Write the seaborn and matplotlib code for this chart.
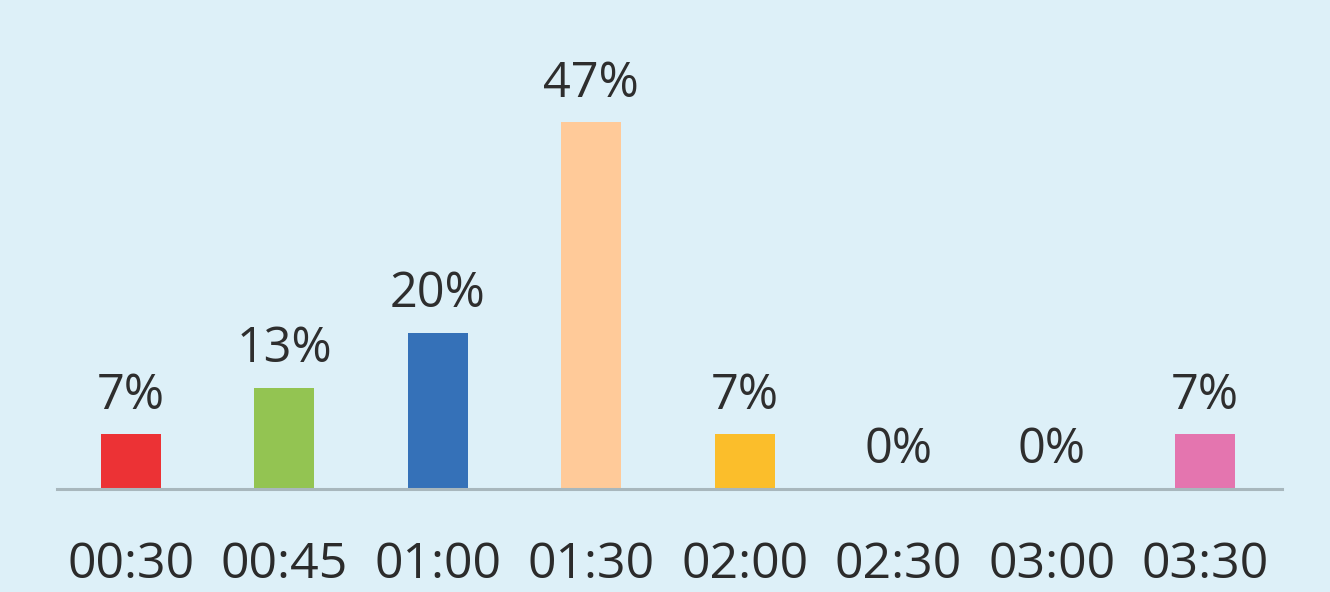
import matplotlib
matplotlib.use("Agg")
import matplotlib.pyplot as plt
import seaborn as sns
import pandas as pd

categories = ["00:30", "00:45", "01:00", "01:30", "02:00", "02:30", "03:00", "03:30"]
values = [7, 13, 20, 47, 7, 0, 0, 7]
labels = ["7%", "13%", "20%", "47%", "7%", "0%", "0%", "7%"]
colors = ["#EC3235", "#93C452", "#3571B8", "#FFCA99", "#FBBE2B", "#E0E0E0", "#E0E0E0", "#E475AF"]

bg = "#DDF0F8"
sns.set_theme(style="white")
plt.rcParams["font.family"] = ["Open Sans", "DejaVu Sans"]

df = pd.DataFrame({"time": categories, "pct": values})

fig = plt.figure(figsize=(13.3, 5.92), dpi=100, facecolor=bg)
ax = fig.add_axes([57/1330, (592-489)/592, (1282-57)/1330, 468/592])
ax.set_facecolor(bg)

sns.barplot(data=df, x="time", y="pct", hue="time", palette=colors, order=categories,
            hue_order=categories, width=0.39, legend=False, ax=ax, saturation=1,
            linewidth=0)

for cont, lab in zip(ax.containers, labels):
    ax.bar_label(cont, labels=[lab], padding=10, fontsize=35, color="#2E2E2E")

ax.set_xlim(-0.48, 7.5)
ax.set_ylim(0, 60)
for s in ["top", "right", "left"]:
    ax.spines[s].set_visible(False)
ax.spines["bottom"].set_color("#A8B7BD")
ax.spines["bottom"].set_linewidth(2.2)
ax.set_yticks([])
ax.set_xlabel("")
ax.set_ylabel("")
ax.tick_params(axis="x", length=0, pad=37, labelsize=36, labelcolor="#2B2B2B")

fig.savefig("out.png", dpi=100, facecolor=bg)
